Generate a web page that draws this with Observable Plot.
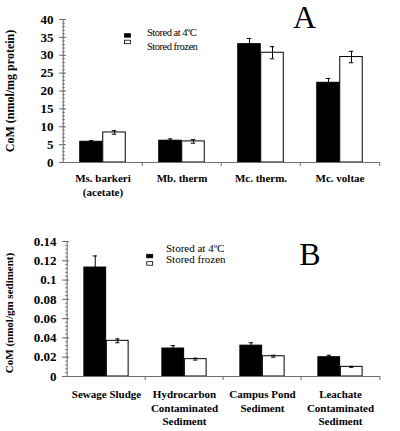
<!DOCTYPE html>
<html>
<head>
<meta charset="utf-8">
<script src="https://cdn.jsdelivr.net/npm/d3@7"></script>
<script src="https://cdn.jsdelivr.net/npm/@observablehq/plot@0.6"></script>
<style>
  html, body { margin: 0; padding: 0; background: #fff; }
  #chart { width: 400px; }
  #chart svg { display: block; }
</style>
</head>
<body>
<div id="chart"></div>
<script>
// ---------- Data ----------
const seriesLabels = ["Stored at 4ºC", "Stored frozen"];

const catsA = ["Ms. barkeri\n(acetate)", "Mb. therm", "Mc. therm.", "Mc. voltae"];
const coldA = [5.8, 6.1, 33.1, 22.3];
const coldErrA = [0.3, 0.5, 1.6, 1.2];
const frozenA = [8.4, 5.9, 30.7, 29.5];
const frozenErrA = [0.5, 0.5, 1.7, 1.6];
const ticksA = [0, 5, 10, 15, 20, 25, 30, 35, 40];
const minorA = d3.range(0, 40.5, 1);
const yLabelA = "CoM (nmol/mg protein)";

const catsB = ["Sewage Sludge", "Hydrocarbon\nContaminated\nSediment", "Campus Pond\nSediment", "Leachate\nContaminated\nSediment"];
const coldB = [0.113, 0.029, 0.032, 0.020];
const coldErrB = [0.012, 0.003, 0.003, 0.002];
const frozenB = [0.037, 0.018, 0.021, 0.010];
const frozenErrB = [0.002, 0.001, 0.001, 0.0005];
const ticksB = [0, 0.02, 0.04, 0.06, 0.08, 0.1, 0.12, 0.14];
const minorB = d3.range(0, 0.1401, 0.004);
const yLabelB = "CoM (nmol/gm sediment)";

const AXIS = "#6e6e6e";
const SERIF = "'Liberation Serif', 'Times New Roman', serif";

function panel(o) {
  const W = 400;
  const plotW = W - o.ml - o.mr;
  const plotH = o.height - o.mt - o.mb;
  const bw = plotW / o.cats.length;
  const hb = o.barW; // width of one bar
  const rows = o.cats.map((c, i) => ({
    cat: c, cold: o.cold[i], coldErr: o.coldErr[i], frozen: o.frozen[i], frozenErr: o.frozenErr[i]
  }));
  const svg = Plot.plot({
    width: W,
    height: o.height,
    marginLeft: o.ml, marginRight: o.mr, marginTop: o.mt, marginBottom: o.mb,
    style: { background: "white", fontFamily: SERIF, overflow: "visible" },
    x: { domain: o.cats, padding: 0, axis: null },
    y: { domain: o.domain, axis: null },
    marks: [
      // bars
      Plot.barY(rows, { x: "cat", y: "cold", fill: "black", stroke: "black", strokeWidth: 1,
        insetLeft: bw / 2 - hb, insetRight: bw / 2 }),
      Plot.barY(rows, { x: "cat", y: "frozen", fill: "white", stroke: "black", strokeWidth: 1,
        insetLeft: bw / 2, insetRight: bw / 2 - hb }),
      // error bars
      Plot.ruleX(rows, { x: "cat", y1: d => d.cold - d.coldErr, y2: d => d.cold + d.coldErr, dx: -hb / 2, stroke: "black", strokeWidth: 1 }),
      Plot.tickY(rows, { x: "cat", y: d => d.cold + d.coldErr, dx: -hb / 2, insetLeft: bw / 2 - 2.5, insetRight: bw / 2 - 2.5, stroke: "black" }),
      Plot.ruleX(rows, { x: "cat", y1: d => d.frozen - d.frozenErr, y2: d => d.frozen + d.frozenErr, dx: hb / 2, stroke: "black", strokeWidth: 1 }),
      Plot.tickY(rows, { x: "cat", y: d => d.frozen + d.frozenErr, dx: hb / 2, insetLeft: bw / 2 - 2.5, insetRight: bw / 2 - 2.5, stroke: "black" }),
      Plot.tickY(rows, { x: "cat", y: d => d.frozen - d.frozenErr, dx: hb / 2, insetLeft: bw / 2 - 2.5, insetRight: bw / 2 - 2.5, stroke: "black" }),
      // axes lines
      Plot.ruleY([o.domain[0]], { stroke: AXIS, strokeWidth: 1 }),
      Plot.ruleX([o.cats[0]], { x: d => d, dx: -bw / 2, stroke: AXIS, strokeWidth: 1 }),
      // y ticks
      Plot.tickY(o.minor, { y: d => d, insetRight: plotW - 3, stroke: AXIS, strokeWidth: 0.8 }),
      Plot.tickY(o.ticks, { y: d => d, insetRight: plotW - 7, dx: -3, stroke: AXIS, strokeWidth: 1 }),
      Plot.text(o.ticks, { y: d => d, text: d => String(d), frameAnchor: "left", dx: -9, textAnchor: "end",
        fontSize: 13, fontWeight: "bold", fill: "black", fontFamily: SERIF }),
      // x boundary ticks
      Plot.tickX(o.cats.slice(1), { x: d => d, dx: -bw / 2, insetTop: plotH - 4, dy: 4, stroke: AXIS }),
      Plot.tickX(o.cats.slice(-1), { x: d => d, dx: bw / 2, insetTop: plotH - 4, dy: 4, stroke: AXIS }),
      // category labels
      Plot.text(o.cats, { x: d => d, text: d => d, frameAnchor: "bottom", lineAnchor: "top", dy: o.labelDy,
        lineHeight: o.lineHeight, fontSize: 11, fontWeight: "bold", fill: "black", fontFamily: SERIF }),
      // y axis title
      Plot.text([o.yLabel], { frameAnchor: "left", dx: o.yLabelX - o.ml, dy: o.yLabelDy, rotate: -90, textAnchor: "middle",
        fontSize: o.yLabelSize, fontWeight: "bold", fill: "black", fontFamily: SERIF })
    ]
  });
  // legend + panel letter
  const s = d3.select(svg);
  const lg = s.append("g").attr("font-family", SERIF).attr("fill", "black").attr("text-anchor", "start");
  o.legendSwatches.forEach((sw, i) => {
    lg.append("rect").attr("x", sw[0]).attr("y", sw[1]).attr("width", 6).attr("height", 3.5)
      .attr("fill", i === 0 ? "black" : "white").attr("stroke", "black").attr("stroke-width", 0.8);
  });
  seriesLabels.forEach((t, i) => {
    lg.append("text").attr("x", o.legendText[i][0]).attr("y", o.legendText[i][1])
      .attr("text-anchor", "start")
      .attr("dominant-baseline", "middle").attr("font-size", o.legendSize)
      .attr("letter-spacing", o.legendSpacing).text(t);
  });
  lg.append("text").attr("x", o.letterPos[0]).attr("y", o.letterPos[1]).attr("text-anchor", "middle")
    .attr("font-size", 32).text(o.letter);
  return svg;
}

const chart = document.getElementById("chart");
chart.appendChild(panel({
  cats: catsA, cold: coldA, coldErr: coldErrA, frozen: frozenA, frozenErr: frozenErrA,
  ticks: ticksA, minor: minorA, domain: [0, 40], yLabel: yLabelA, yLabelSize: 12, yLabelX: 10, yLabelDy: 0,
  height: 215, ml: 62, mr: 20, mt: 19, mb: 53, barW: 23,
  labelDy: 9, lineHeight: 1.3,
  legendSwatches: [[124.5, 33.7], [124.5, 40.2]],
  legendText: [[147, 33.5], [147, 47.5]], legendSize: 10.5, legendSpacing: -0.5,
  letter: "A", letterPos: [304.5, 28]
}));
chart.appendChild(panel({
  cats: catsB, cold: coldB, coldErr: coldErrB, frozen: frozenB, frozenErr: frozenErrB,
  ticks: ticksB, minor: minorB, domain: [0, 0.14], yLabel: yLabelB, yLabelSize: 11, yLabelX: 9, yLabelDy: 4,
  height: 216, ml: 65, mr: 20, mt: 26, mb: 55, barW: 22.5,
  labelDy: 11.5, lineHeight: 1.25,
  legendSwatches: [[146.7, 39.3], [146.7, 46.7]],
  legendText: [[166, 34.5], [166, 45.5]], legendSize: 11, legendSpacing: 0,
  letter: "B", letterPos: [310, 50]
}));
</script>
</body>
</html>
